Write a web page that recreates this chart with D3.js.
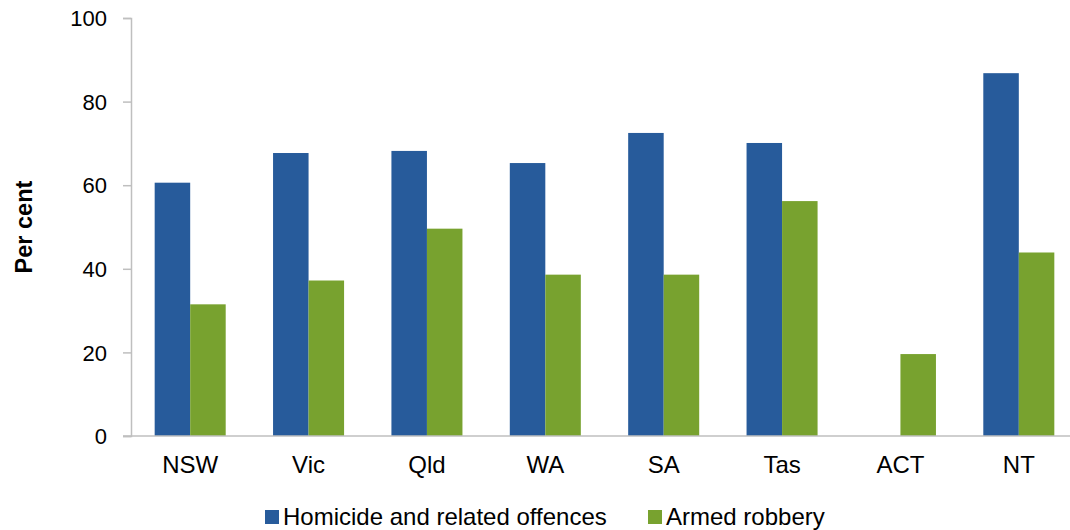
<!DOCTYPE html>
<html>
<head>
<meta charset="utf-8">
<script src="https://cdn.jsdelivr.net/npm/d3@7"></script>
<style>
  body { margin: 0; background: #fff; }
  text { font-family: "Liberation Sans", Arial, sans-serif; fill: #000; }
</style>
</head>
<body>
<div id="chart"></div>
<script>
// states / territories
const states = ["NSW", "Vic", "Qld", "WA", "SA", "Tas", "ACT", "NT"];
// per cent cleared
const homicide = [60.6, 67.7, 68.2, 65.3, 72.5, 70.1, null, 86.8];
const armedRobbery = [31.5, 37.2, 49.6, 38.6, 38.6, 56.2, 19.6, 43.9];
const seriesNames = ["Homicide and related offences", "Armed robbery"];
const yTicks = [0, 20, 40, 60, 80, 100];

const width = 1070, height = 530;
const margin = {top: 18, bottom: 94, left: 131, right: -8};
const colors = ["#275b9b", "#78a22f"];

const svg = d3.select("#chart")
    .append("svg")
    .attr("width", width)
    .attr("height", height);

const x0 = d3.scaleBand()
    .domain(states)
    .range([margin.left, width - margin.right])
    .paddingInner(0.4)
    .paddingOuter(0.2);
const x1 = d3.scaleBand()
    .domain(seriesNames)
    .range([0, x0.bandwidth()]);
const y = d3.scaleLinear()
    .domain([0, 100])
    .range([height - margin.bottom, margin.top]);

const plotData = states.map((s, i) => ({
    state: s,
    values: [homicide[i], armedRobbery[i]]
}));

// bars
const groups = svg.selectAll(".grp")
    .data(plotData)
    .enter()
    .append("g")
    .attr("transform", d => `translate(${x0(d.state)},0)`);
seriesNames.forEach((name, k) => {
    groups.filter(d => d.values[k] != null)
        .append("rect")
        .attr("x", x1(name))
        .attr("y", d => y(d.values[k]))
        .attr("width", x1.bandwidth())
        .attr("height", d => y(0) - y(d.values[k]))
        .attr("fill", colors[k]);
});

// y axis
const yAxis = svg.append("g")
    .attr("transform", `translate(${margin.left},0)`)
    .call(d3.axisLeft(y).tickValues(yTicks).tickSize(8).tickPadding(16));
yAxis.select(".domain").attr("stroke", "#bfbfbf").attr("stroke-width", 1.5);
yAxis.selectAll(".tick line").attr("stroke", "#bfbfbf").attr("stroke-width", 1.5);
yAxis.selectAll("text").style("font-size", "22px").attr("dy", "0.35em");

// x axis
const xAxis = svg.append("g")
    .attr("transform", `translate(0,${y(0)})`)
    .call(d3.axisBottom(x0).tickSize(0).tickPadding(20));
xAxis.select(".domain").attr("stroke", "#bfbfbf").attr("stroke-width", 1.5)
    .attr("d", `M${margin.left - 8},0H${width}`);
xAxis.selectAll("text").style("font-size", "24px");

// y title
svg.append("text")
    .attr("transform", "rotate(-90)")
    .attr("x", -(y(0) + y(100)) / 2)
    .attr("y", 32)
    .attr("text-anchor", "middle")
    .style("font-size", "23.5px")
    .style("font-weight", "bold")
    .text("Per cent");

// legend
const legendX = [265, 648];
seriesNames.forEach((name, k) => {
    const g = svg.append("g").attr("transform", `translate(${legendX[k]},510)`);
    g.append("rect")
        .attr("width", 14)
        .attr("height", 14)
        .attr("fill", colors[k]);
    g.append("text")
        .attr("x", 18)
        .attr("y", 15)
        .style("font-size", "24px")
        .text(name);
});
</script>
</body>
</html>
